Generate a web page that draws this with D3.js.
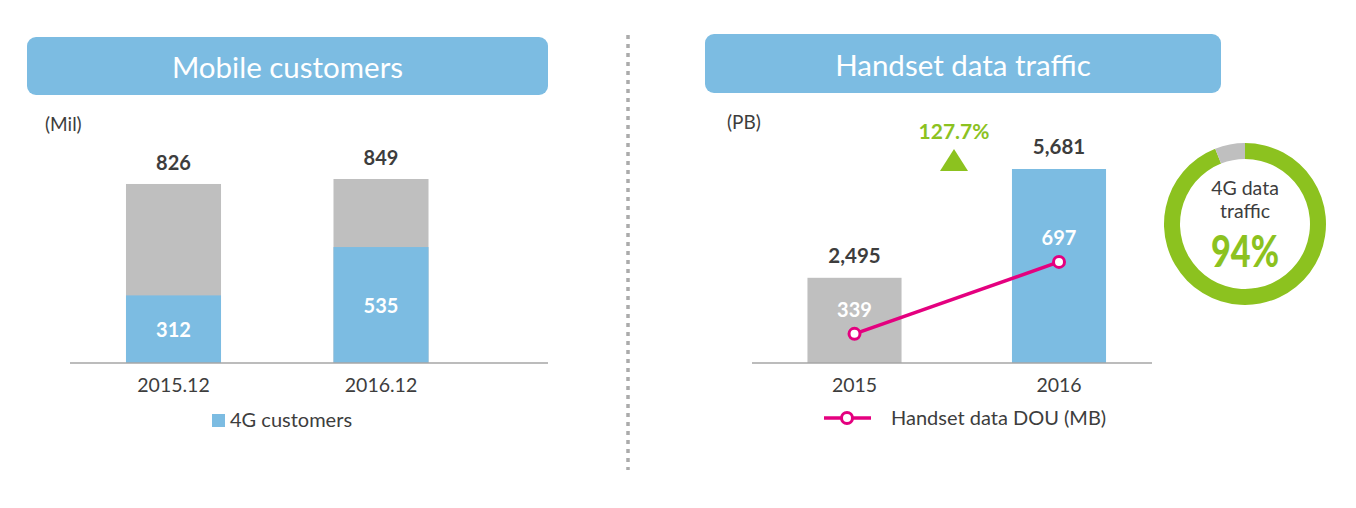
<!DOCTYPE html>
<html>
<head>
<meta charset="utf-8">
<script src="https://cdn.jsdelivr.net/npm/d3@7"></script>
<style>
  body { margin: 0; background: #fff; }
  svg { display: block; font-family: Lato, "Open Sans", sans-serif; }
</style>
</head>
<body>
<script>
// left panel data
const customerCats = ["2015.12", "2016.12"];
const totalCustomers = [826, 849];
const customers4G = [312, 535];

// right panel data
const trafficCats = ["2015", "2016"];
const trafficPB = [2495, 5681];
const handsetDOU = [339, 697];
const trafficGrowth = "127.7%";

// donut: 4G share vs rest
const share4G = [94, 6];

const W = 1356, H = 508;
const blue = "#7cbce2", grey = "#bfbfbf", green = "#8cc21f", pink = "#e4007f", ink = "#3d3d3d";
const base = 363;

const svg = d3.select("body").append("svg")
    .attr("width", W)
    .attr("height", H);

// header boxes
function header(x0, x1, y0, y1, label) {
    svg.append("rect")
        .attr("x", x0).attr("y", y0)
        .attr("width", x1 - x0).attr("height", y1 - y0)
        .attr("rx", 9)
        .attr("fill", blue);
    svg.append("text")
        .attr("x", (x0 + x1) / 2)
        .attr("y", (y0 + y1) / 2 + 12)
        .attr("text-anchor", "middle")
        .attr("fill", "#fff")
        .attr("font-size", 29.5)
        .text(label);
}
header(27, 548, 37, 95, "Mobile customers");
header(705, 1221, 34, 93, "Handset data traffic");

// dotted divider
svg.append("line")
    .attr("x1", 628).attr("x2", 628)
    .attr("y1", 35).attr("y2", 470)
    .attr("stroke", "#ababab")
    .attr("stroke-width", 3.5)
    .attr("stroke-dasharray", "4,5");

// ---------- left: mobile customers ----------
const xL = d3.scaleBand()
    .domain(customerCats)
    .range([69.75, 484.75])
    .paddingInner(0.542)
    .paddingOuter(0.271);

const yL = d3.scaleLinear()
    .domain([0, d3.max(totalCustomers)])
    .range([base, 179]);

svg.append("text").attr("x", 45).attr("y", 131)
    .attr("font-size", 19).attr("fill", ink).text("(Mil)");

const gL = svg.append("g");

// grey totals
gL.selectAll(".tot")
    .data(totalCustomers)
    .enter().append("rect")
    .attr("x", (d, i) => xL(customerCats[i]))
    .attr("y", d => yL(d))
    .attr("width", xL.bandwidth())
    .attr("height", d => base - yL(d))
    .attr("fill", grey);

// 4G portion
gL.selectAll(".g4")
    .data(customers4G)
    .enter().append("rect")
    .attr("x", (d, i) => xL(customerCats[i]))
    .attr("y", d => yL(d))
    .attr("width", xL.bandwidth())
    .attr("height", d => base - yL(d))
    .attr("fill", blue);

gL.selectAll(".totlab")
    .data(totalCustomers)
    .enter().append("text")
    .attr("x", (d, i) => xL(customerCats[i]) + xL.bandwidth() / 2)
    .attr("y", d => yL(d) - 14)
    .attr("text-anchor", "middle")
    .attr("font-size", 20).attr("font-weight", "bold")
    .attr("fill", ink)
    .text(d => d);

gL.selectAll(".g4lab")
    .data(customers4G)
    .enter().append("text")
    .attr("x", (d, i) => xL(customerCats[i]) + xL.bandwidth() / 2)
    .attr("y", d => (yL(d) + base) / 2 + 8)
    .attr("text-anchor", "middle")
    .attr("font-size", 20).attr("font-weight", "bold")
    .attr("fill", "#fff")
    .text(d => d);

// baseline + category labels
svg.append("line")
    .attr("x1", 70).attr("x2", 548)
    .attr("y1", base).attr("y2", base)
    .attr("stroke", "#a6a6a6").attr("stroke-width", 1.5);

const axL = svg.append("g")
    .attr("transform", "translate(0," + base + ")")
    .call(d3.axisBottom(xL).tickSize(0).tickPadding(15));
axL.select(".domain").remove();
axL.selectAll("text").attr("font-size", 19.5).attr("fill", ink).attr("font-family", "Lato");

// legend
svg.append("rect").attr("x", 212).attr("y", 414).attr("width", 13).attr("height", 13).attr("fill", blue);
svg.append("text").attr("x", 230).attr("y", 427)
    .attr("font-size", 20).attr("fill", ink).text("4G customers");

// ---------- right: handset data traffic ----------
const xR = d3.scaleBand()
    .domain(trafficCats)
    .range([752.25, 1161.25])
    .paddingInner(0.54)
    .paddingOuter(0.27);

const yR = d3.scaleLinear()
    .domain([0, d3.max(trafficPB)])
    .range([base, 169]);

const yDOU = d3.scaleLinear()
    .domain([0, 1000])
    .range([402, 201]);

svg.append("text").attr("x", 727).attr("y", 129)
    .attr("font-size", 19).attr("fill", ink).text("(PB)");

const gR = svg.append("g");
gR.selectAll(".pb")
    .data(trafficPB)
    .enter().append("rect")
    .attr("x", (d, i) => xR(trafficCats[i]))
    .attr("y", d => yR(d))
    .attr("width", xR.bandwidth())
    .attr("height", d => base - yR(d))
    .attr("fill", (d, i) => i === 0 ? grey : blue);

gR.selectAll(".pblab")
    .data(trafficPB)
    .enter().append("text")
    .attr("x", (d, i) => xR(trafficCats[i]) + xR.bandwidth() / 2)
    .attr("y", d => yR(d) - 15)
    .attr("text-anchor", "middle")
    .attr("font-size", 20.5).attr("font-weight", "bold")
    .attr("fill", ink)
    .text(d => d3.format(",")(d));

svg.append("line")
    .attr("x1", 752).attr("x2", 1152)
    .attr("y1", base).attr("y2", base)
    .attr("stroke", "#a6a6a6").attr("stroke-width", 1.5);

const axR = svg.append("g")
    .attr("transform", "translate(0," + base + ")")
    .call(d3.axisBottom(xR).tickSize(0).tickPadding(15));
axR.select(".domain").remove();
axR.selectAll("text").attr("font-size", 19.5).attr("fill", ink).attr("font-family", "Lato");

// DOU line
const cx = (d, i) => xR(trafficCats[i]) + xR.bandwidth() / 2;
const line = d3.line()
    .x((d, i) => cx(d, i))
    .y(d => yDOU(d));

gR.append("path")
    .datum(handsetDOU)
    .attr("d", line)
    .attr("fill", "none")
    .attr("stroke", pink)
    .attr("stroke-width", 3.5);

gR.selectAll(".dot")
    .data(handsetDOU)
    .enter().append("circle")
    .attr("cx", cx)
    .attr("cy", d => yDOU(d))
    .attr("r", 5.5)
    .attr("fill", "#fff")
    .attr("stroke", pink)
    .attr("stroke-width", 3);

gR.selectAll(".doulab")
    .data(handsetDOU)
    .enter().append("text")
    .attr("x", cx)
    .attr("y", d => yDOU(d) - 17)
    .attr("text-anchor", "middle")
    .attr("font-size", 20).attr("font-weight", "bold")
    .attr("fill", "#fff")
    .text(d => d);

// growth marker
svg.append("text").attr("x", 954).attr("y", 139)
    .attr("text-anchor", "middle")
    .attr("font-size", 21).attr("font-weight", "bold")
    .attr("fill", green).text(trafficGrowth);
svg.append("path")
    .attr("d", "M940,171 L954,149 L968,171 Z")
    .attr("fill", green);

// legend
svg.append("line").attr("x1", 824).attr("x2", 871).attr("y1", 418).attr("y2", 418)
    .attr("stroke", pink).attr("stroke-width", 3.5);
svg.append("circle").attr("cx", 847).attr("cy", 418).attr("r", 5.5)
    .attr("fill", "#fff").attr("stroke", pink).attr("stroke-width", 3);
svg.append("text").attr("x", 891).attr("y", 425)
    .attr("font-size", 20).attr("fill", ink).text("Handset data DOU (MB)");

// ---------- donut ----------
const pie = d3.pie().sort(null);
const arc = d3.arc().innerRadius(65).outerRadius(81);
const gD = svg.append("g").attr("transform", "translate(1245,224)");
gD.selectAll("path")
    .data(pie(share4G))
    .enter().append("path")
    .attr("d", arc)
    .attr("fill", (d, i) => i === 0 ? green : grey);

gD.append("text").attr("y", -29).attr("text-anchor", "middle")
    .attr("font-size", 19.5).attr("fill", ink).text("4G data");
gD.append("text").attr("y", -6).attr("text-anchor", "middle")
    .attr("font-size", 19.5).attr("fill", ink).text("traffic");
gD.append("text").attr("x", -34).attr("y", 43)
    .attr("font-weight", "900")
    .attr("font-size", 43)
    .attr("textLength", 68)
    .attr("lengthAdjust", "spacingAndGlyphs")
    .attr("fill", green)
    .text(share4G[0] + "%");
</script>
</body>
</html>
